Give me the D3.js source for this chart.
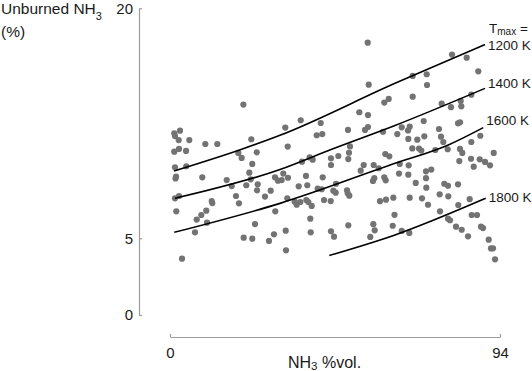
<!DOCTYPE html>
<html>
<head>
<meta charset="utf-8">
<script src="https://cdn.jsdelivr.net/npm/d3@7"></script>
<style>
  html, body { margin: 0; padding: 0; background: #fff; }
  svg { display: block; font-family: "Liberation Sans", Arial, sans-serif; }
</style>
</head>
<body>
<svg id="chart" width="532" height="371"></svg>
<script>
// ---- data ----
const xTicks = [0, 94];
const yTicks = [0, 5, 20];

const sampleX = [
  20.9, 2.85, 1.22, 1.42, 2.48, 5.50, 23.16, 10.06, 13.47, 56.32,
  56.60, 61.04, 62.30, 53.92, 56.40, 37.23, 42.93, 32.84, 50.70, 55.55,
  56.40, 60.67, 41.79, 43.38, 80.33, 84.51, 87.82, 69.13, 73.12, 73.21,
  69.13, 77.39, 80.04, 82.81, 82.98, 85.83, 72.27, 82.04, 82.61, 66.00,
  68.28, 67.79, 64.75, 76.62, 72.44, 67.88, 70.44, 77.19, 77.85, 85.83,
  88.39, 1.22, 2.56, 4.56, 19.46, 20.42, 24.70, 23.44, 1.42, 4.64,
  1.71, 1.57, 9.20, 16.15, 22.59, 22.99, 17.58, 21.73, 24.98, 24.78,
  29.91, 30.76, 28.68, 27.06, 1.42, 2.56, 18.80, 11.88, 12.05, 19.65,
  1.79, 10.34, 8.92, 7.61, 10.54, 29.99, 24.21, 7.12, 20.99, 23.44,
  29.62, 28.20, 3.42, 33.53, 51.27, 37.60, 39.79, 40.65, 45.86, 47.94,
  50.79, 50.99, 45.86, 61.33, 62.47, 55.18, 58.02, 59.45, 54.32, 32.27,
  33.61, 31.82, 38.74, 43.50, 58.19, 57.82, 61.04, 61.44, 36.66, 39.11,
  42.07, 43.21, 47.28, 46.52, 47.20, 50.42, 50.62, 51.07, 33.41, 35.52,
  36.09, 37.12, 38.83, 39.40, 40.36, 43.87, 45.78, 59.82, 61.53, 63.61,
  39.96, 63.95, 50.79, 57.91, 63.44, 32.96, 40.08, 45.86, 46.72, 58.31,
  57.05, 33.04, 69.02, 70.93, 71.58, 75.57, 79.10, 82.61, 83.26, 92.21,
  65.43, 67.99, 82.41, 85.74, 88.22, 89.73, 91.15, 86.51, 72.92, 74.43,
  65.23, 67.88, 72.92, 69.99, 78.13, 79.19, 82.04, 73.01, 76.82, 79.27,
  68.28, 71.78, 85.37, 73.49, 82.12, 76.91, 85.94, 87.45, 79.19, 79.76,
  81.47, 83.09, 88.59, 89.16, 66.00, 68.16, 84.89, 90.78, 91.44, 92.01,
  92.58
];
const sampleY = [
  13.72, 12.02, 11.85, 11.67, 11.41, 11.41, 11.46, 11.15, 11.15, 17.76,
  15.02, 13.85, 14.09, 13.22, 13.04, 12.70, 12.52, 12.22, 12.07, 12.07,
  12.26, 11.95, 11.72, 11.80, 16.98, 16.78, 15.89, 15.59, 15.70, 15.00,
  14.24, 13.78, 13.55, 13.96, 13.61, 14.37, 12.65, 12.50, 12.57, 12.24,
  12.28, 12.03, 11.80, 12.13, 11.65, 11.48, 11.43, 11.63, 11.28, 11.28,
  11.69, 10.65, 10.83, 10.70, 10.57, 10.24, 10.61, 9.85, 9.63, 9.70,
  9.03, 8.90, 8.98, 8.80, 9.28, 8.85, 8.41, 8.46, 8.52, 8.13,
  8.98, 8.76, 8.11, 7.72, 7.61, 7.76, 7.76, 7.43, 7.30, 7.28,
  6.76, 6.80, 6.52, 6.22, 6.02, 6.76, 5.93, 5.39, 5.04, 4.98,
  5.26, 4.83, 3.67, 10.98, 10.99, 10.00, 10.28, 10.13, 10.22, 10.37,
  10.17, 10.58, 9.78, 10.50, 10.35, 9.78, 9.78, 9.57, 9.41, 9.22,
  8.95, 8.80, 9.07, 8.98, 8.92, 8.74, 8.98, 8.78, 8.39, 8.46,
  8.24, 8.20, 8.56, 8.11, 7.98, 8.13, 7.94, 7.78, 7.61, 7.39,
  7.19, 7.37, 7.50, 7.37, 7.11, 7.50, 7.43, 7.42, 7.52, 7.65,
  6.28, 6.53, 5.85, 5.92, 5.82, 5.50, 5.39, 5.46, 5.11, 5.52,
  5.09, 4.22, 10.86, 10.85, 10.72, 10.76, 10.81, 10.83, 10.57, 10.57,
  9.85, 9.76, 10.04, 10.19, 10.15, 9.98, 9.76, 9.67, 9.37, 9.48,
  9.22, 9.15, 8.92, 8.61, 8.56, 8.43, 8.52, 8.30, 7.87, 7.74,
  7.65, 7.61, 7.55, 7.19, 7.17, 6.76, 6.52, 6.52, 6.28, 6.18,
  5.76, 5.56, 5.76, 5.67, 5.48, 5.35, 5.13, 4.91, 4.34, 4.35,
  3.63
];

const curveNames = ["1200 K", "1400 K", "1600 K", "1800 K"];
const curve1200 = [[1.14, 9.39], [20.42, 10.81], [31.33, 11.72], [64.09, 15.11], [89.73, 17.63]];
const curve1400 = [[1.42, 7.61], [31.33, 9.49], [46.06, 10.81], [64.09, 12.36], [89.73, 14.78]];
const curve1600 = [[1.22, 5.39], [31.33, 7.28], [64.09, 9.89], [79.27, 11.09], [89.24, 12.22]];
const curve1800 = [[45.38, 3.88], [64.09, 5.22], [89.93, 7.61]];

// ---- layout ----
const svg = d3.select("#chart");
const x = d3.scaleLinear().domain([0, 94]).range([170, 500]);
const y = d3.scaleLinear().domain([0, 20]).range([315, 8.3]);
const axisColor = "#9c9c9c";
const textColor = "#1a1a1a";

// y axis (offset left of plot, inward ticks)
const gy = svg.append("g").attr("transform", "translate(139,0)")
  .call(d3.axisLeft(y).tickValues(yTicks).tickFormat(d3.format("d"))
    .tickSize(-3).tickSizeOuter(0).tickPadding(6));
gy.select(".domain").attr("stroke", axisColor).attr("stroke-width", 1.2);
gy.selectAll(".tick line").attr("stroke", axisColor).attr("stroke-width", 1.2);
gy.selectAll(".tick text").attr("fill", textColor).style("font-size", "15px")
  .style("font-family", "Liberation Sans, Arial, sans-serif");

// x axis
const gx = svg.append("g").attr("transform", "translate(0,337)")
  .call(d3.axisBottom(x).tickValues(xTicks).tickFormat(d3.format("d"))
    .tickSize(-3).tickSizeOuter(0).tickPadding(10));
gx.select(".domain").attr("stroke", axisColor).attr("stroke-width", 1.2);
gx.selectAll(".tick line").attr("stroke", axisColor).attr("stroke-width", 1.2);
gx.selectAll(".tick text").attr("fill", textColor).style("font-size", "15px")
  .style("font-family", "Liberation Sans, Arial, sans-serif");

// axis titles
const yt = svg.append("text").attr("x", 1).attr("y", 14)
  .attr("fill", textColor).style("font-size", "15.5px");
yt.append("tspan").text("Unburned NH");
yt.append("tspan").attr("dy", 6).style("font-size", "11px").text("3");
svg.append("text").attr("x", 1).attr("y", 37).attr("fill", textColor)
  .style("font-size", "15.5px").text("(%)");

const xt = svg.append("text").attr("x", 288).attr("y", 368)
  .attr("fill", textColor).style("font-size", "16px");
xt.append("tspan").text("NH");
xt.append("tspan").attr("dy", 2).style("font-size", "11.5px").text("3");
xt.append("tspan").attr("dy", -2).text(" %vol.");

// points
const pts = sampleX.map((v, i) => [v, sampleY[i]]);
svg.append("g").selectAll("circle").data(pts).join("circle")
  .attr("cx", d => x(d[0])).attr("cy", d => y(d[1]))
  .attr("r", 3.1).attr("fill", "#737373");

// curves
const curves = [curve1200, curve1400, curve1600, curve1800];
const line = d3.line().x(d => x(d[0])).y(d => y(d[1])).curve(d3.curveMonotoneX);
svg.append("g").selectAll("path").data(curves).join("path")
  .attr("d", line).attr("fill", "none").attr("stroke", "#000").attr("stroke-width", 1.6);

// curve labels
const labelDy = [5, -0.5, -2.5, 4];
curves.forEach((c, i) => {
  const last = c[c.length - 1];
  svg.append("text").attr("x", x(last[0]) + 3).attr("y", y(last[1]) + labelDy[i])
    .attr("fill", textColor).style("font-size", "13.5px").text(curveNames[i]);
});
const tm = svg.append("text").attr("x", 489).attr("y", 33)
  .attr("fill", textColor).style("font-size", "13.5px");
tm.append("tspan").text("T");
tm.append("tspan").attr("dy", 2).style("font-size", "10px").text("max");
tm.append("tspan").attr("dy", -2).text(" =");
</script>
</body>
</html>
